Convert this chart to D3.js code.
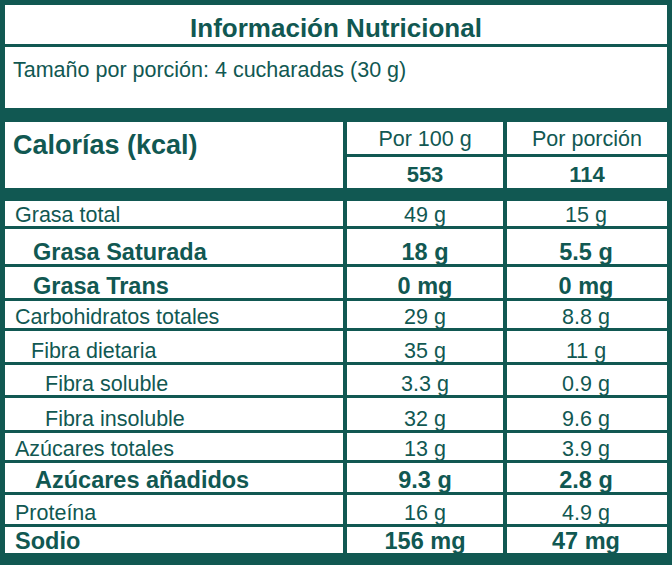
<!DOCTYPE html><html><head><meta charset="utf-8"><script src="https://cdn.jsdelivr.net/npm/d3@7"></script>
<style>body{margin:0;background:#115852}svg{display:block}</style></head><body><script>
const title="Información Nutricional";
const serving="Tamaño por porción: 4 cucharadas (30 g)";
const headers=["Por 100 g","Por porción"];
const calories=["Calorías (kcal)","553","114"];
const nutrients=["Grasa total","Grasa Saturada","Grasa Trans","Carbohidratos totales","Fibra dietaria","Fibra soluble","Fibra insoluble","Azúcares totales","Azúcares añadidos","Proteína","Sodio"];
const per100=["49 g","18 g","0 mg","29 g","35 g","3.3 g","32 g","13 g","9.3 g","16 g","156 mg"];
const perPortion=["15 g","5.5 g","0 mg","8.8 g","11 g","0.9 g","9.6 g","3.9 g","2.8 g","4.9 g","47 mg"];
const bold=[0,1,1,0,0,0,0,0,1,0,1];
const indent=[0,2,2,0,1,3,3,0,4,0,0];
// layout
const rowEdges=[201,229,267,301,331,365,398,433,463,495,527,553];
const indentX=[15,31,33,45,35];
const G="#115852",W=672,H=565;
const svg=d3.select("body").append("svg").attr("width",W).attr("height",H);
svg.append("rect").attr("width",W).attr("height",H).attr("fill",G);
const cols=[[5,343],[347,503],[507,667]];
const box=(x0,y0,x1,y1)=>svg.append("rect").attr("x",x0).attr("y",y0).attr("width",x1-x0).attr("height",y1-y0).attr("fill","#fff");
const txt=(s,x,y,size,w,anchor)=>svg.append("text").attr("x",x).attr("y",y).style("font-family","'Liberation Sans', Arial, sans-serif").attr("font-size",size).attr("font-weight",w).attr("fill",G).attr("text-anchor",anchor||"start").text(s);
box(5,5,667,44); txt(title,336,37,26,"bold","middle");
box(5,47,667,108); txt(serving,13,77,21.5,"normal");
box(5,122,343,188); box(347,122,503,154); box(507,122,667,154); box(347,157,503,188); box(507,157,667,188);
txt(calories[0],13,154,27,"bold");
headers.forEach((h,i)=>txt(h,(cols[i+1][0]+cols[i+1][1])/2,146,21.5,"normal","middle"));
[calories[1],calories[2]].forEach((h,i)=>txt(h,(cols[i+1][0]+cols[i+1][1])/2,182,22,"bold","middle"));
const y=d3.scaleOrdinal().domain(nutrients).range(rowEdges.slice(0,-1));
nutrients.forEach((n,i)=>{
  const y0=y(n), y1=rowEdges[i+1]-(i<nutrients.length-1?3:0);
  cols.forEach(c=>box(c[0],y0,c[1],y1));
  const b=bold[i], fs=b?23.5:21.5, base=y1-4;
  txt(n,indentX[indent[i]],base,fs,b?"bold":"normal");
  txt(per100[i],425,base,fs,b?"bold":"normal","middle");
  txt(perPortion[i],586,base,fs,b?"bold":"normal","middle");
});
</script></body></html>
